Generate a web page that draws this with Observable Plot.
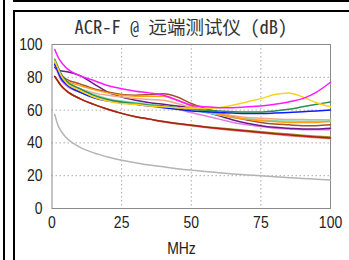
<!DOCTYPE html>
<html>
<head>
<meta charset="utf-8">
<script src="https://cdn.jsdelivr.net/npm/d3@7"></script>
<script src="https://cdn.jsdelivr.net/npm/@observablehq/plot@0.6"></script>
<style>
  html, body { margin: 0; padding: 0; background: #fff; }
  #wrap { position: relative; width: 349px; height: 260px; overflow: hidden; background: #fff; }
  .bar { position: absolute; background: #000; }
  #title { position: absolute; left: 13px; width: 336px; top: 14px; text-align: center;
    font-family: "Noto Sans Mono CJK SC", "Noto Sans CJK SC", "DejaVu Sans Mono", monospace;
    font-size: 18.5px; line-height: 24px; color: #333; white-space: pre; }
  #xlabel { position: absolute; left: 13px; width: 336px; top: 238px; text-align: center;
    font-family: "Liberation Sans", Arial, sans-serif;
    font-size: 17px; line-height: 22px; color: #222; }
  #xlabel span { display: inline-block; transform: scaleX(0.82); }
  #chart { position: absolute; left: 0; top: 0; }
</style>
</head>
<body>
<div id="wrap">
  <div id="chart"></div>
  <div class="bar" style="left:3px;top:0;width:2px;height:260px"></div>
  <div class="bar" style="left:13px;top:0;width:336px;height:2px"></div>
  <div class="bar" style="left:13px;top:10px;width:336px;height:2px"></div>
  <div class="bar" style="left:13px;top:10px;width:2px;height:250px"></div>
  <div id="title"></div>
  <div id="xlabel"><span></span></div>
</div>
<script>
const titleText = "ACR-F @ 远端测试仪 (dB)";
const xLabel = "MHz";
const xTicks = [0, 25, 50, 75, 100];
const yTicks = [0, 20, 40, 60, 80, 100];

const freqMHz = [1, 2, 3, 5, 10, 15, 20, 25, 30, 35, 40, 45, 50, 55, 60, 65, 70, 75, 80, 85, 90, 95, 100];

const limitLine   = [57.4, 51.4, 47.9, 43.4, 37.4, 33.9, 31.4, 29.4, 27.9, 26.5, 25.4, 24.3, 23.4, 22.6, 21.8, 21.1, 20.5, 19.9, 19.3, 18.8, 18.3, 17.9, 17.4];
const redLine     = [80.5, 78, 75.5, 72, 67, 63.5, 60.5, 58, 56, 54.5, 53, 51.8, 50.7, 49.7, 48.8, 48, 47.2, 46.4, 45.6, 44.9, 44.2, 43.6, 43];
const oliveLine   = [80.5, 78, 75.5, 72, 67, 63.5, 60.5, 58, 56, 54.5, 53, 51.9, 50.9, 49.9, 49.1, 48.3, 47.6, 46.8, 46.1, 45.4, 44.7, 44.1, 43.6];
const coralLine   = [80.5, 78, 75.5, 72, 67, 63.5, 60.5, 58, 56, 54.4, 52.8, 51.5, 50.4, 49.4, 48.5, 47.6, 46.8, 46, 45.2, 44.4, 43.7, 43.1, 42.5];
const purpleLine  = [86, 84.5, 84, 83.5, 81, 76, 71, 68, 66, 64.5, 63.5, 62.5, 61.5, 59, 56.5, 54, 52, 50.5, 49.5, 49, 48.5, 48.5, 49];
const violetLine  = [87, 83, 79, 75, 71, 68, 66.5, 65, 64, 63, 62, 60.5, 58.5, 56.5, 54.5, 52.5, 51, 50, 49, 48.5, 48, 48, 48];
const brownLine   = [88, 85, 82, 79, 76, 73, 71, 69.5, 69, 69.5, 70, 68, 64, 61, 58.5, 56, 54, 52.5, 51.5, 51, 50.5, 50.5, 51];
const orangeLine  = [89, 85, 81, 78, 75, 72.5, 70.5, 69, 68.5, 68.5, 68.5, 66, 62.5, 60, 57.5, 55.5, 54.5, 53.5, 53, 52.5, 52.5, 52.5, 53];
const salmonLine  = [88, 84, 80, 77, 73, 70.5, 69, 68, 67, 66.5, 66, 64, 61.5, 59.5, 58, 56.5, 55.5, 55, 54.5, 54.3, 54.2, 54.1, 54];
const aquaLine    = [90, 86, 82, 78, 73, 69.5, 67, 65.5, 64.5, 63.5, 62.5, 61.5, 60, 58.5, 57, 55.5, 54.5, 54, 53.5, 53.3, 53.2, 53.2, 53.3];
const blueLine    = [88, 84, 80, 76, 71, 67.5, 65.5, 64.5, 63.5, 62.5, 61.5, 60.5, 59.5, 59, 58.5, 58.2, 58, 58, 58.2, 58.5, 59, 59.5, 60];
const greenLine   = [91, 87, 83, 78, 73, 69, 66.5, 65, 64, 63, 62.5, 61.5, 60.5, 60, 59.5, 59, 58.8, 58.8, 59.5, 60.5, 62, 63.5, 65];
const yellowLine  = [90, 86, 82, 77, 72, 68, 65.5, 64, 63.5, 62.5, 62, 61.5, 61, 61, 61.5, 63, 65, 67, 69.5, 70.5, 68, 64.5, 62];
const magentaLine = [97, 93, 90, 86, 81, 78, 75, 73, 71.5, 70.5, 69, 66, 63, 62, 61.5, 61.5, 62, 62.5, 63.5, 65, 67, 71, 77];

const seriesList = [
  {name: "limit", values: limitLine, color: "#b4b4b4"},
  {name: "coral", values: coralLine, color: "#e8857a"},
  {name: "olive", values: oliveLine, color: "#8f9a1e"},
  {name: "red", values: redLine, color: "#b01c1c"},
  {name: "violet", values: violetLine, color: "#e27ee2"},
  {name: "purple", values: purpleLine, color: "#6a1a8a"},
  {name: "brown", values: brownLine, color: "#a0522d"},
  {name: "salmon", values: salmonLine, color: "#f5a58a"},
  {name: "aqua", values: aquaLine, color: "#70e0b8"},
  {name: "orange", values: orangeLine, color: "#ff9f10"},
  {name: "blue", values: blueLine, color: "#0a1eff"},
  {name: "green", values: greenLine, color: "#2e8b57"},
  {name: "yellow", values: yellowLine, color: "#ffd21a"},
  {name: "magenta", values: magentaLine, color: "#ff1aff"}
];

document.getElementById("title").textContent = titleText;
document.querySelector("#xlabel span").textContent = xLabel;

const rows = seriesList.flatMap(s => s.values.map((v, i) => ({series: s.name, f: freqMHz[i], v})));

const tickFont = '"Liberation Sans", Arial, sans-serif';

const chart = Plot.plot({
  width: 349,
  height: 260,
  marginLeft: 51.5,
  marginRight: 19,
  marginTop: 44,
  marginBottom: 52,
  style: {fontFamily: tickFont, fontSize: "17px", color: "#222", background: "transparent", overflow: "visible"},
  x: {domain: [0, 100], ticks: xTicks},
  y: {domain: [0, 100], ticks: yTicks},
  color: {domain: seriesList.map(s => s.name), range: seriesList.map(s => s.color)},
  marks: [
    Plot.gridX(xTicks.slice(1, -1), {stroke: "#aaa", strokeOpacity: 1, strokeDasharray: "1.5,2.5"}),
    Plot.gridY(yTicks.slice(1, -1), {stroke: "#aaa", strokeOpacity: 1, strokeDasharray: "1.5,2.5"}),
    Plot.frame({stroke: "#8a8a8a"}),
    Plot.axisX({ticks: xTicks, tickSize: 0, tickPadding: 7.5, label: null, fontSize: 17}),
    Plot.axisY({ticks: yTicks, tickSize: 0, tickPadding: 9.5, label: null, fontSize: 17}),
    Plot.line(rows, {x: "f", y: "v", z: "series", stroke: "series", strokeWidth: 1.5, curve: "monotone-x"})
  ]
});
document.getElementById("chart").appendChild(chart);

// narrow the tick labels (condensed sans look of the reference)
chart.querySelectorAll('g[aria-label$="tick label"] text').forEach(t => {
  const w = t.getComputedTextLength();
  t.setAttribute("textLength", (w * 0.82).toFixed(2));
  t.setAttribute("lengthAdjust", "spacingAndGlyphs");
});
</script>
</body>
</html>
